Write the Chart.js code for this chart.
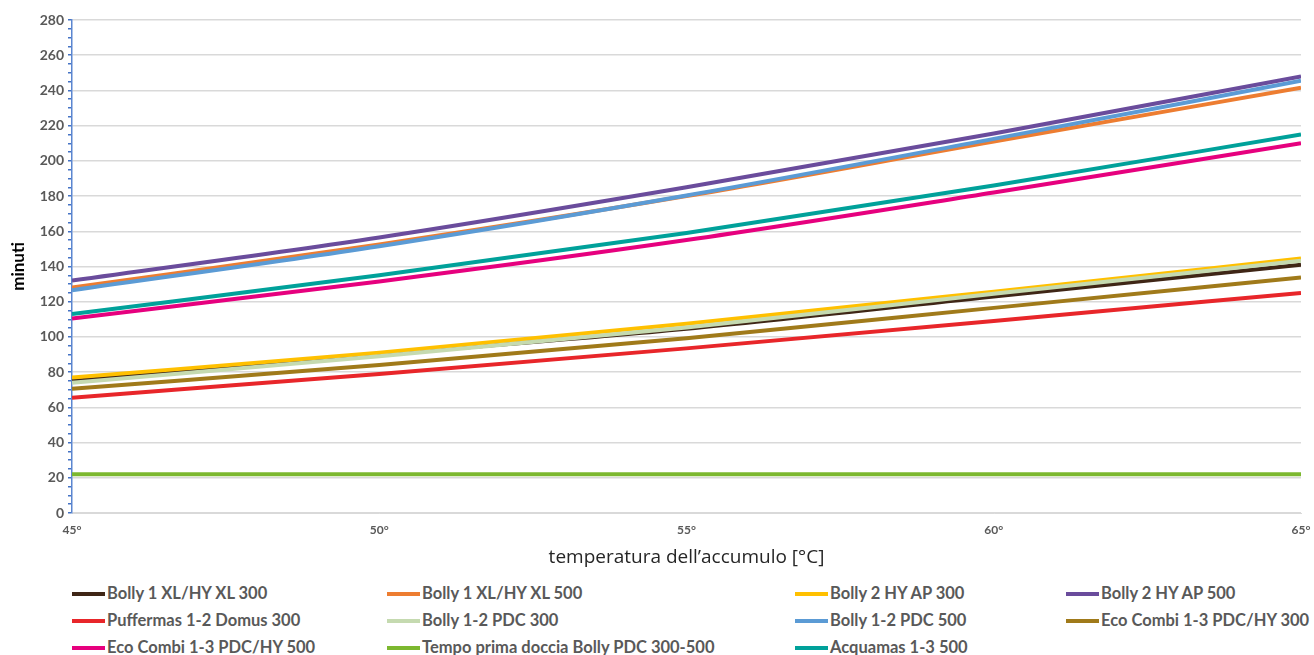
<!DOCTYPE html>
<html>
<head>
<meta charset="utf-8">
<script src="https://cdn.jsdelivr.net/npm/chart.js@4"></script>
<style>
  html, body { margin: 0; padding: 0; background: #fff; }
  #wrap { position: relative; width: 1314px; height: 655px; }
  #box { position: absolute; left: 0; top: 0; width: 1314px; height: 578px; }
  #legend { position: absolute; left: 0; top: 580px; width: 1314px; height: 75px; font-family: Lato, sans-serif; font-weight: bold; font-size: 16.5px; color: #595959; }
  .item { position: absolute; height: 20px; line-height: 20px; white-space: nowrap; }
  .item i { display: inline-block; width: 33px; height: 4px; vertical-align: middle; margin-right: 2px; position: relative; top: -1px; }
</style>
</head>
<body>
<div id="wrap">
  <div id="box"><canvas id="chart"></canvas></div>
  <div id="legend"></div>
</div>
<script>
// temperatura dell'accumulo
const temps = [45, 50, 55, 60, 65];

// minuti per serie
const bolly1Xl300 = [75, 90, 104.7, 123, 141];
const bolly1Xl500 = [128, 152.5, 180, 211, 241.5];
const bolly2Ap300 = [77, 91, 107.5, 125.7, 144.5];
const bolly2Ap500 = [132, 156.5, 185, 215.5, 248];
const puffermas300 = [65.5, 79, 93.5, 109, 125];
const bolly12Pdc300 = [74, 89, 105.3, 124.5, 143.3];
const bolly12Pdc500 = [126.5, 151.5, 180.3, 212.5, 245.5];
const ecoCombi300 = [70.5, 84, 99.3, 116.5, 133.8];
const ecoCombi500 = [110.5, 131.5, 155, 182, 210];
const tempoPrima = [22, 22, 22, 22, 22];
const acquamas500 = [113, 135, 159, 186, 215];

const seriesNames = [
  'Bolly 1 XL/HY XL 300', 'Bolly 1 XL/HY XL 500', 'Bolly 2 HY AP 300', 'Bolly 2 HY AP 500',
  'Puffermas 1-2 Domus 300', 'Bolly 1-2 PDC 300', 'Bolly 1-2 PDC 500', 'Eco Combi 1-3 PDC/HY 300',
  'Eco Combi 1-3 PDC/HY 500', 'Tempo prima doccia Bolly PDC 300-500', 'Acquamas 1-3  500'
];
const seriesValues = [
  bolly1Xl300, bolly1Xl500, bolly2Ap300, bolly2Ap500, puffermas300, bolly12Pdc300,
  bolly12Pdc500, ecoCombi300, ecoCombi500, tempoPrima, acquamas500
];
const seriesColors = [
  '#3f2616', '#ed7d31', '#ffc000', '#6a4c9c', '#e8262a', '#c5dab0',
  '#5b9bd5', '#a07a1a', '#e6007e', '#7cb82f', '#00a19a'
];

// y ticks ogni 5, etichette ogni 20
const yMin = 0, yMax = 280, yStep = 5, yLabelStep = 20;
const xStep = 5;

const datasets = seriesValues.map((vals, i) => ({
  label: seriesNames[i],
  data: temps.map((t, j) => ({ x: t, y: vals[j] })),
  borderColor: seriesColors[i],
  backgroundColor: seriesColors[i],
  borderWidth: 4,
  pointRadius: 0,
  cubicInterpolationMode: 'monotone',
  order: seriesValues.length - i
}));

new Chart(document.getElementById('chart'), {
  type: 'line',
  data: { datasets },
  options: {
    responsive: true,
    maintainAspectRatio: false,
    animation: false,
    layout: { padding: { top: 20, right: 13, left: 0, bottom: 0 } },
    plugins: { legend: { display: false }, tooltip: { enabled: false } },
    scales: {
      x: {
        type: 'linear',
        min: temps[0],
        max: temps[temps.length - 1],
        afterFit: s => { s.height = 65; },
        ticks: {
          stepSize: xStep,
          callback: v => v + '°',
          font: { family: 'Lato', weight: 'bold', size: 12 },
          color: '#595959',
          padding: 2
        },
        grid: { display: false },
        border: { color: '#d9d9d9', width: 1 },
        title: {
          display: true,
          text: 'temperatura dell’accumulo [°C]',
          font: { family: 'Open Sans', size: 19 },
          color: '#262626',
          padding: { top: 2, bottom: 9 }
        }
      },
      y: {
        min: yMin,
        max: yMax,
        afterFit: s => { s.width = 72; },
        ticks: {
          stepSize: yStep,
          autoSkip: false,
          callback: v => (v % yLabelStep === 0 ? v : ''),
          font: { family: 'Lato', weight: 'bold', size: 14 },
          color: '#595959',
          padding: 4
        },
        grid: {
          color: c => (c.tick && c.tick.value % yLabelStep === 0 ? '#d9d9d9' : 'rgba(0,0,0,0)'),
          tickColor: '#4472c4',
          tickLength: 4,
          lineWidth: 1.5
        },
        border: { color: '#5b86d0', width: 1.5 },
        title: {
          display: true,
          text: 'minuti',
          font: { family: 'Lato', weight: 'bold', size: 17 },
          color: '#000',
          padding: { top: 8, bottom: 0 }
        }
      }
    }
  }
});

// legenda a griglia (4 colonne)
const colLeft = [72, 387, 795, 1066];
const rowTop = [3, 30, 57];
const legend = document.getElementById('legend');
seriesNames.forEach((name, i) => {
  const el = document.createElement('div');
  el.className = 'item';
  el.style.left = colLeft[i % 4] + 'px';
  el.style.top = rowTop[Math.floor(i / 4)] + 'px';
  const sw = document.createElement('i');
  sw.style.background = seriesColors[i];
  el.appendChild(sw);
  el.appendChild(document.createTextNode(name));
  legend.appendChild(el);
});
</script>
</body>
</html>
